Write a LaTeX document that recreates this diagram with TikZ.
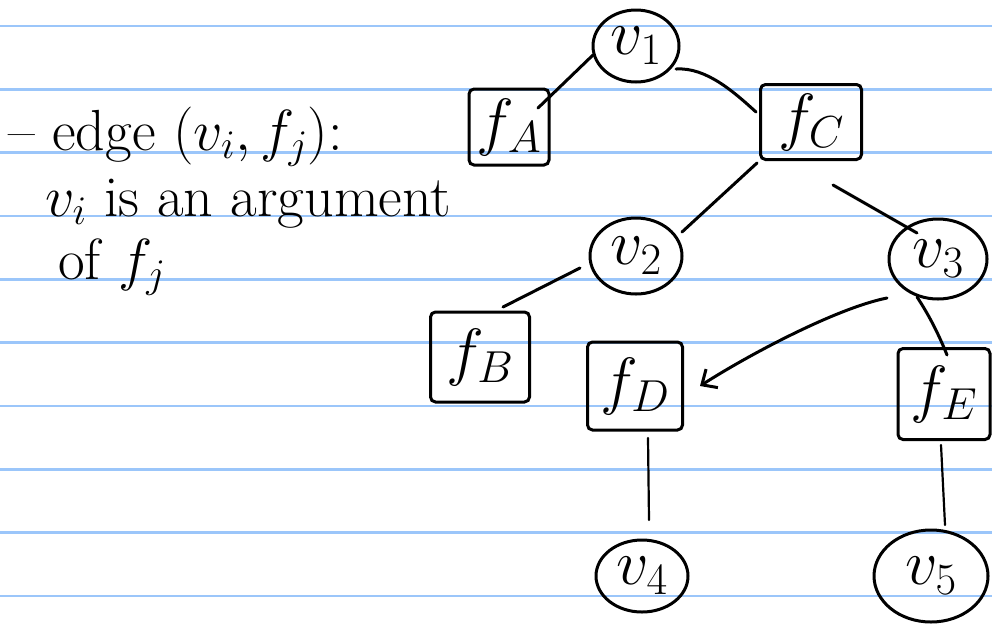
\RequirePackage{fix-cm}
\documentclass[tikz,border=0pt]{standalone}
\usetikzlibrary{shapes.geometric,arrows.meta}
\definecolor{ruling}{RGB}{155,198,250}
\begin{document}
\begin{tikzpicture}[x=1pt,y=-1pt,
  vnode/.style={draw, ellipse, line width=3pt, inner sep=0pt, font=\fontsize{64}{66}\selectfont},
  fnode/.style={draw, rectangle, rounded corners=5pt, line width=3pt, inner sep=0pt, font=\fontsize{64}{66}\selectfont},
  conn/.style={line width=3pt, line cap=round},
  thinconn/.style={line width=2.2pt, line cap=round},
  note/.style={anchor=base west, inner sep=0pt, font=\fontsize{58}{62}\selectfont}]
\useasboundingbox (0,0) rectangle (992,625);
\foreach \k in {0,...,9} \draw[ruling, line width=2.5pt] (0,{26+63.33*\k}) -- (992,{26+63.33*\k});

\node[vnode, minimum width=86pt, minimum height=72pt] (v1) at (636,46) {$v_1$};
\node[fnode, minimum width=80pt, minimum height=76pt] (fA) at (509,127) {$f_A$};
\node[fnode, minimum width=101pt, minimum height=75pt] (fC) at (811,122) {$f_C$};
\node[vnode, minimum width=92pt, minimum height=76pt] (v2) at (636,256) {$v_2$};
\node[vnode, minimum width=98pt, minimum height=80pt] (v3) at (938,259) {$v_3$};
\node[fnode, minimum width=99pt, minimum height=90pt] (fB) at (480,357) {$f_B$};
\node[fnode, minimum width=95pt, minimum height=88pt] (fD) at (635,386) {$f_D$};
\node[fnode, minimum width=92pt, minimum height=91pt] (fE) at (944,394) {$f_E$};
\node[vnode, minimum width=92pt, minimum height=72pt] (v4) at (642,576) {$v_4$};
\node[vnode, minimum width=114pt, minimum height=92pt] (v5) at (931,576) {$v_5$};

\draw[conn] ([shift={(-43,9)}]v1.center) -- ([shift={(29,-19)}]fA.center);
\draw[conn] ([shift={(40,23)}]v1.center) .. controls +(30,-2) and +(-22,-20) .. ([shift={(-55,-10)}]fC.center);
\draw[conn] ([shift={(-54,41)}]fC.center) -- ([shift={(46,-24)}]v2.center);
\draw[conn] ([shift={(22,63)}]fC.center) -- ([shift={(-21,-26)}]v3.center);
\draw[conn] ([shift={(-56,12)}]v2.center) -- ([shift={(23,-50)}]fB.center);
\draw[conn, -{Straight Barb[length=12pt, width=22pt]}] ([shift={(-51,39)}]v3.center) .. controls +(-50,10) and +(50,-32) .. ([shift={(65,0)}]fD.center);
\draw[conn] ([shift={(-21,38)}]v3.center) .. controls +(12,18) and +(-8,-20) .. ([shift={(3,-39)}]fE.center);
\draw[thinconn] ([shift={(13,52)}]fD.center) -- ([shift={(7,-56)}]v4.center);
\draw[thinconn] ([shift={(-3,51)}]fE.center) -- ([shift={(14,-51)}]v5.center);

\node[note] (t1) at (8,150) {-- edge $(v_i, f_j)$:};
\node[note] (t2) at (45,216) {$v_i$ is an argument};
\node[note] (t3) at (58,279) {of $f_j$};
\end{tikzpicture}
\end{document}
